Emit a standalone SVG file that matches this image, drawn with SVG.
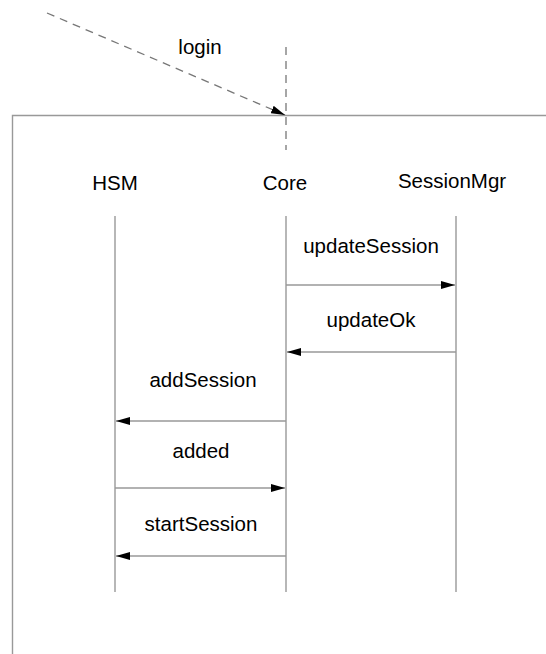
<svg xmlns="http://www.w3.org/2000/svg" width="546" height="654" viewBox="0 0 546 654">
<style>
text{font-family:"Liberation Sans",Arial,sans-serif;font-size:20.5px;fill:#000;text-anchor:middle}
.ln{stroke:#999;stroke-width:1.4;fill:none}
.msg{stroke:#999;stroke-width:1.4;fill:none;marker-end:url(#ah)}
.dash{stroke:#777;stroke-width:1.3;fill:none;stroke-dasharray:8,6}
</style>
<defs>
<marker id="ah" viewBox="0 0 14 8" refX="14" refY="4" markerWidth="14" markerHeight="8" markerUnits="userSpaceOnUse" orient="auto">
<path d="M0,0 L14,4 L0,8 Z" fill="#000"/>
</marker>
</defs>
<rect width="546" height="654" fill="#fff"/>
<g id="frame"><path class="ln" d="M12.5,660 V115.5 H550"/></g>
<g id="HSM"><text x="115" y="190">HSM</text><line class="ln" x1="115" y1="216" x2="115" y2="592"/></g>
<g id="Core"><text x="285" y="190">Core</text><line class="ln" x1="286" y1="216" x2="286" y2="592"/></g>
<g id="SessionMgr"><text x="452" y="188">SessionMgr</text><line class="ln" x1="456" y1="216" x2="456" y2="592"/></g>
<g id="connectors">
<line class="dash" x1="286" y1="47" x2="286" y2="150"/>
<line class="dash" x1="47" y1="13" x2="285" y2="115" style="marker-end:url(#ah)"/>
<text x="200" y="54">login</text>
<line class="msg" x1="286" y1="285" x2="455" y2="285"/>
<text x="371" y="253">updateSession</text>
<line class="msg" x1="456" y1="352" x2="287" y2="352"/>
<text x="371" y="327">updateOk</text>
<line class="msg" x1="286" y1="421" x2="116" y2="421"/>
<text x="203" y="387">addSession</text>
<line class="msg" x1="115" y1="488" x2="285" y2="488"/>
<text x="201" y="458">added</text>
<line class="msg" x1="286" y1="556" x2="116" y2="556"/>
<text x="201" y="531">startSession</text>
</g>
</svg>
